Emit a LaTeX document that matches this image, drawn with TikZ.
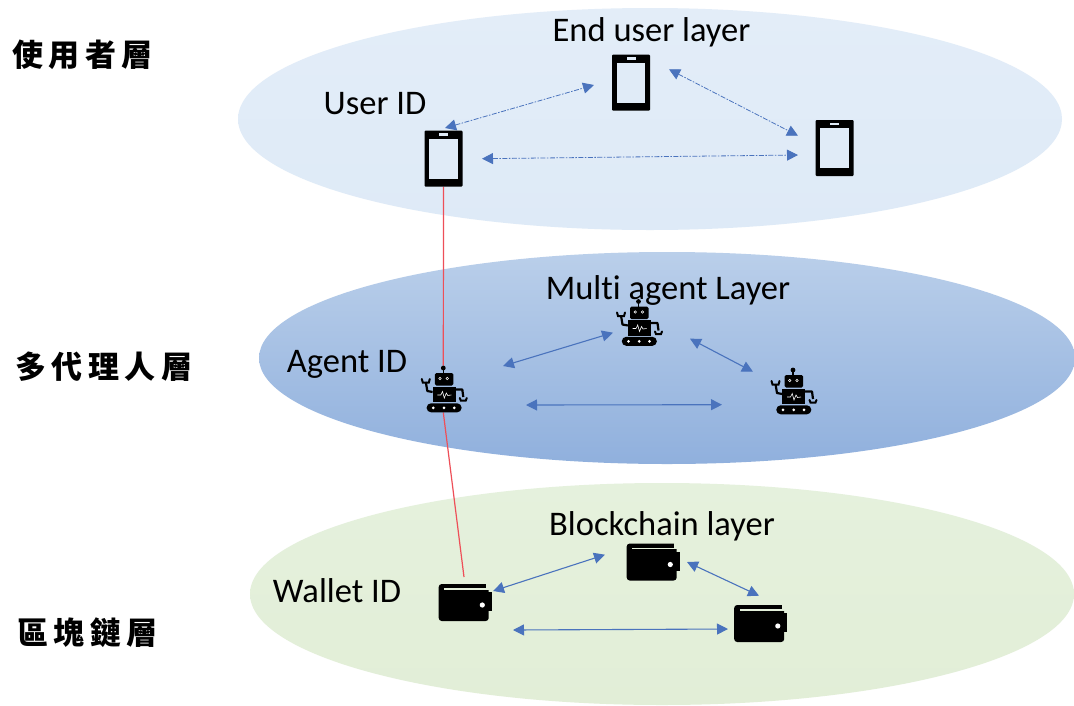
\documentclass[tikz,border=0pt]{standalone}
\usepackage{fontspec}
\setmainfont[Ligatures=NoCommon]{Carlito}
\newfontfamily\cjk[LetterSpace=18]{Noto Sans CJK TC}
\usetikzlibrary{arrows.meta}
\definecolor{arrowblue}{HTML}{4472C4}
\definecolor{redline}{HTML}{EE4F58}
\definecolor{screenblue}{HTML}{E0EBF7}
\definecolor{pocketgreen}{HTML}{E3EFDA}
\definecolor{toptop}{HTML}{E3EDF8}
\definecolor{topbot}{HTML}{DEEAF7}
\definecolor{midtop}{HTML}{BACFEA}
\definecolor{midbot}{HTML}{90B0DD}
\definecolor{lowtop}{HTML}{E5F1DD}
\definecolor{lowbot}{HTML}{E2EED7}
\tikzset{
  x=1pt,y=-1pt,
  iconbox/.style={inner sep=0pt,outer sep=0pt,draw=none},
  phonebox/.style={iconbox,minimum width=38pt,minimum height=56pt},
  robotbox/.style={iconbox,minimum width=45pt,minimum height=47pt},
  walletbox/.style={iconbox,minimum width=53pt,minimum height=37pt},
  layerlabel/.style={font=\fontsize{34.5}{36}\selectfont,text=black,inner sep=0pt},
  sidelabel/.style={font=\cjk\bfseries\fontsize{31}{33}\selectfont,text=black,inner sep=0pt,anchor=west},
  peerlink/.style={arrowblue!90!gray,line width=1.1pt,{Triangle[width=11pt,length=11pt]}-{Triangle[width=11pt,length=11pt]}},
  dashlink/.style={peerlink,line width=0.8pt,dash pattern=on 5pt off 1.5pt on 1.5pt off 1.5pt},
  idlink/.style={redline,line width=1.2pt},
  phoneicon/.pic={
    \fill[black,rounded corners=1pt] (-19,-28) rectangle (19,28);
    \fill[screenblue] (-14.3,-20) rectangle (14.3,20);
    \fill[screenblue] (-4.5,-25.3) rectangle (4.5,-23);
  },
  roboticon/.pic={
    \fill[black] (0,-21) circle (2.4);
    \draw[black,line width=1.5pt] (0,-21) -- (0,-15);
    \fill[black,rounded corners=1.5pt] (-8.5,-16) rectangle (10,-3.5);
    \draw[white,line width=0.5pt] (-3.3,-10.5) circle (1.3) (4,-10.5) circle (1.3);
    \fill[black] (-10.7,-2.5) rectangle (12.3,13.3);
    \draw[white,line width=0.6pt] (-6,6) -- (-2.5,6) -- (-0.8,2.5) -- (1,9) -- (3,4) -- (4.5,6.5) -- (8,6);
    \fill[black,rounded corners=4.4pt] (-16.7,14.3) rectangle (18.3,23.3);
    \fill[white] (-10,18.8) circle (1.5) (0.7,18.8) circle (1.5) (11,18.8) circle (1.5);
    \draw[black,line width=2.2pt,line join=round] (-10.7,3) -- (-16,2) -- (-17.5,-7);
    \draw[black,line width=2pt,line cap=round] (-21.5,-10) -- (-20.5,-6.5) -- (-14.5,-6.5) -- (-13.5,-10);
    \draw[black,line width=2.2pt,line join=round] (12,0.5) -- (19,0.5) -- (20,8);
    \draw[black,line width=2pt,line cap=round] (16.5,9) -- (17.5,11.5) -- (22.5,11.5) -- (23.5,9);
  },
  walleticon/.pic={
    \fill[black,rounded corners=3pt] (-26.3,-18) rectangle (23.7,19);
    \fill[black] (20,-10) rectangle (26.7,9);
    \fill[pocketgreen] (-21,-13.8) rectangle (22,-12.4);
    \fill[pocketgreen] (21,-18.5) rectangle (24.5,-12.4);
    \fill[white] (17.3,3) circle (2.6);
  }
}
\begin{document}
\begin{tikzpicture}
\useasboundingbox (0,0) rectangle (1074,705);
\clip (0,0) rectangle (1074,705);
\fill[white] (0,0) rectangle (1074,705);
% layers
\path[top color=toptop,bottom color=topbot] (650,119) ellipse [x radius=412,y radius=111];
\path[top color=midtop,bottom color=midbot] (667,358) ellipse [x radius=408,y radius=106];
\path[top color=lowtop,bottom color=lowbot] (662,594) ellipse [x radius=412,y radius=111];
% icon nodes
\node[phonebox] (u1) at (443.5,158.7) {};
\node[phonebox] (u2) at (631,82.7) {};
\node[phonebox] (u3) at (834.7,148) {};
\node[robotbox] (a1) at (443.3,389) {};
\node[robotbox] (a2) at (638.5,322.5) {};
\node[robotbox] (a3) at (793,391) {};
\node[walletbox] (w1) at (465,602) {};
\node[walletbox] (w2) at (653,561.5) {};
\node[walletbox] (w3) at (760.5,623) {};
% connector ends
\coordinate (u12a) at (445,128);
\coordinate (u12b) at (594,85);
\coordinate (u23a) at (669,69.3);
\coordinate (u23b) at (798,135.7);
\coordinate (u13a) at (482,158.7);
\coordinate (u13b) at (798,155);
\coordinate (a12a) at (503,366);
\coordinate (a12b) at (613,332.7);
\coordinate (a23a) at (690,338.7);
\coordinate (a23b) at (753,371.7);
\coordinate (a13a) at (526,405);
\coordinate (a13b) at (722,404.7);
\coordinate (w12a) at (493,591);
\coordinate (w12b) at (605,554.7);
\coordinate (w23a) at (687,562);
\coordinate (w23b) at (759,595.7);
\coordinate (w13a) at (513,630);
\coordinate (w13b) at (728,629);
\coordinate (wtop) at (464,577);
% id links
\draw[idlink] (u1.south) -- (a1.north);
\draw[idlink] (a1.south) -- (wtop);
% peer links
\draw[dashlink] (u12a) -- (u12b);
\draw[dashlink] (u23a) -- (u23b);
\draw[dashlink] (u13a) -- (u13b);
\draw[peerlink] (a12a) -- (a12b);
\draw[peerlink] (a23a) -- (a23b);
\draw[peerlink] (a13a) -- (a13b);
\draw[peerlink] (w12a) -- (w12b);
\draw[peerlink] (w23a) -- (w23b);
\draw[peerlink] (w13a) -- (w13b);
% icons
\foreach \n in {u1,u2,u3} \pic at (\n) {phoneicon};
\foreach \n in {a1,a2,a3} \pic at (\n) {roboticon};
\foreach \n in {w1,w2,w3} \pic at (\n) {walleticon};
% labels
\node[layerlabel] (t1) at (651.5,32.5) {End user layer};
\node[layerlabel] (t2) at (375,104) {User ID};
\node[layerlabel] (t3) at (668,290.5) {Multi agent Layer};
\node[layerlabel] (t4) at (347,364.5) {Agent ID};
\node[layerlabel] (t5) at (662,526.5) {Blockchain layer};
\node[layerlabel] (t6) at (337,591) {Wallet ID};
\node[sidelabel] (s1) at (12,55) {使用者層};
\node[sidelabel] (s2) at (15,367) {多代理人層};
\node[sidelabel] (s3) at (17,633) {區塊鏈層};
\end{tikzpicture}
\end{document}
